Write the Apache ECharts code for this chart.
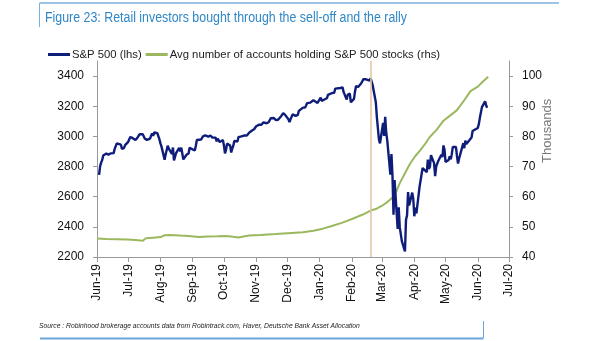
<!DOCTYPE html>
<html>
<head>
<meta charset="utf-8">
<script src="https://cdn.jsdelivr.net/npm/echarts@6/dist/echarts.min.js"></script>
<style>html,body{margin:0;padding:0;background:#fff}#c{width:605px;height:341px}</style>
</head>
<body>
<div id="c"></div>
<script>
// ---- Data ----
var monthTicks = ['2019-06-01','2019-07-01','2019-08-01','2019-09-01','2019-10-01','2019-11-01','2019-12-01','2020-01-01','2020-02-01','2020-03-01','2020-04-01','2020-05-01','2020-06-01','2020-07-01'];
var leftTicks = [2200, 2400, 2600, 2800, 3000, 3200, 3400];
var rightTicks = [40, 50, 60, 70, 80, 90, 100];
var spx = [
['2019-06-03',2744],['2019-06-04',2803],['2019-06-05',2826],['2019-06-06',2843],['2019-06-07',2873],['2019-06-10',2886],['2019-06-11',2885],['2019-06-12',2879],['2019-06-13',2891],['2019-06-14',2887],['2019-06-17',2889],['2019-06-18',2917],['2019-06-19',2926],['2019-06-20',2954],['2019-06-21',2950],['2019-06-24',2945],['2019-06-25',2917],['2019-06-26',2913],['2019-06-27',2924],['2019-06-28',2942],
['2019-07-01',2964],['2019-07-02',2973],['2019-07-03',2996],['2019-07-05',2990],['2019-07-08',2976],['2019-07-09',2979],['2019-07-10',2993],['2019-07-11',3000],['2019-07-12',3014],['2019-07-15',3014],['2019-07-16',3004],['2019-07-17',2985],['2019-07-18',2995],['2019-07-19',2977],['2019-07-22',2985],['2019-07-23',3005],['2019-07-24',3019],['2019-07-25',3004],['2019-07-26',3026],['2019-07-29',3021],['2019-07-30',3013],['2019-07-31',2980],
['2019-08-01',2954],['2019-08-02',2932],['2019-08-05',2845],['2019-08-06',2882],['2019-08-07',2884],['2019-08-08',2938],['2019-08-09',2919],['2019-08-12',2883],['2019-08-13',2926],['2019-08-14',2840],['2019-08-15',2848],['2019-08-16',2889],['2019-08-19',2924],['2019-08-20',2901],['2019-08-21',2925],['2019-08-22',2923],['2019-08-23',2847],['2019-08-26',2878],['2019-08-27',2869],['2019-08-28',2887],['2019-08-29',2924],['2019-08-30',2926],
['2019-09-03',2906],['2019-09-04',2938],['2019-09-05',2976],['2019-09-06',2979],['2019-09-09',2979],['2019-09-10',2980],['2019-09-11',3001],['2019-09-12',3010],['2019-09-13',3007],['2019-09-16',2998],['2019-09-17',3006],['2019-09-18',3006],['2019-09-19',3006],['2019-09-20',2992],['2019-09-23',2992],['2019-09-24',2967],['2019-09-25',2985],['2019-09-26',2977],['2019-09-27',2962],['2019-09-30',2977],
['2019-10-01',2940],['2019-10-02',2887],['2019-10-03',2910],['2019-10-04',2952],['2019-10-07',2939],['2019-10-08',2893],['2019-10-09',2919],['2019-10-10',2938],['2019-10-11',2970],['2019-10-14',2966],['2019-10-15',2996],['2019-10-16',2990],['2019-10-17',2998],['2019-10-18',2986],['2019-10-21',3007],['2019-10-22',2996],['2019-10-23',3005],['2019-10-24',3010],['2019-10-25',3023],['2019-10-28',3039],['2019-10-29',3037],['2019-10-30',3047],['2019-10-31',3038],
['2019-11-01',3067],['2019-11-04',3078],['2019-11-05',3075],['2019-11-06',3077],['2019-11-07',3085],['2019-11-08',3093],['2019-11-11',3087],['2019-11-12',3092],['2019-11-13',3094],['2019-11-14',3097],['2019-11-15',3120],['2019-11-18',3122],['2019-11-19',3120],['2019-11-20',3108],['2019-11-21',3104],['2019-11-22',3110],['2019-11-25',3134],['2019-11-26',3141],['2019-11-27',3154],['2019-11-29',3141],
['2019-12-02',3114],['2019-12-03',3094],['2019-12-04',3113],['2019-12-05',3117],['2019-12-06',3146],['2019-12-09',3136],['2019-12-10',3133],['2019-12-11',3142],['2019-12-12',3169],['2019-12-13',3169],['2019-12-16',3191],['2019-12-17',3192],['2019-12-18',3191],['2019-12-19',3205],['2019-12-20',3221],['2019-12-23',3224],['2019-12-24',3223],['2019-12-26',3240],['2019-12-27',3240],['2019-12-30',3222],['2019-12-31',3231],
['2020-01-02',3258],['2020-01-03',3235],['2020-01-06',3246],['2020-01-07',3237],['2020-01-08',3253],['2020-01-09',3275],['2020-01-10',3265],['2020-01-13',3288],['2020-01-14',3283],['2020-01-15',3289],['2020-01-16',3317],['2020-01-17',3330],['2020-01-21',3321],['2020-01-22',3321],['2020-01-23',3325],['2020-01-24',3295],['2020-01-27',3244],['2020-01-28',3276],['2020-01-29',3273],['2020-01-30',3284],['2020-01-31',3226],
['2020-02-03',3249],['2020-02-04',3298],['2020-02-05',3334],['2020-02-06',3345],['2020-02-07',3328],['2020-02-10',3352],['2020-02-11',3358],['2020-02-12',3379],['2020-02-13',3374],['2020-02-14',3380],['2020-02-18',3370],['2020-02-19',3386],['2020-02-20',3373],['2020-02-21',3338],['2020-02-24',3226],['2020-02-25',3128],['2020-02-26',3116],['2020-02-27',2979],['2020-02-28',2954],
['2020-03-02',3090],['2020-03-03',3003],['2020-03-04',3130],['2020-03-05',3024],['2020-03-06',2972],['2020-03-09',2747],['2020-03-10',2882],['2020-03-11',2741],['2020-03-12',2481],['2020-03-13',2711],['2020-03-16',2386],['2020-03-17',2529],['2020-03-18',2398],['2020-03-19',2409],['2020-03-20',2305],['2020-03-23',2237],['2020-03-24',2447],['2020-03-25',2476],['2020-03-26',2630],['2020-03-27',2541],['2020-03-30',2627],['2020-03-31',2585],
['2020-04-01',2470],['2020-04-02',2527],['2020-04-03',2489],['2020-04-06',2664],['2020-04-07',2660],['2020-04-08',2750],['2020-04-09',2790],['2020-04-13',2762],['2020-04-14',2846],['2020-04-15',2784],['2020-04-16',2800],['2020-04-17',2875],['2020-04-20',2823],['2020-04-21',2737],['2020-04-22',2799],['2020-04-23',2798],['2020-04-24',2837],['2020-04-27',2878],['2020-04-28',2863],['2020-04-29',2940],['2020-04-30',2912],
['2020-05-01',2831],['2020-05-04',2843],['2020-05-05',2868],['2020-05-06',2848],['2020-05-07',2882],['2020-05-08',2930],['2020-05-11',2930],['2020-05-12',2870],['2020-05-13',2820],['2020-05-14',2852],['2020-05-15',2864],['2020-05-18',2954],['2020-05-19',2922],['2020-05-20',2972],['2020-05-21',2949],['2020-05-22',2955],['2020-05-26',2992],['2020-05-27',3036],['2020-05-28',3030],['2020-05-29',3044],
['2020-06-01',3056],['2020-06-02',3081],['2020-06-03',3123],['2020-06-04',3112],['2020-06-05',3194],['2020-06-08',3232],['2020-06-09',3207],['2020-06-10',3190]
];
var accounts = [
['2019-06-01',46.1],['2019-06-10',46.0],['2019-06-20',45.9],['2019-06-30',45.8],['2019-07-08',45.6],['2019-07-15',45.4],['2019-07-18',46.2],['2019-07-25',46.4],['2019-08-01',46.6],['2019-08-05',47.2],['2019-08-10',47.3],['2019-08-20',47.1],['2019-08-28',47.0],['2019-09-07',46.6],['2019-09-15',46.8],['2019-09-25',46.9],['2019-10-03',47.0],['2019-10-10',46.7],['2019-10-15',46.5],['2019-10-25',47.1],['2019-11-05',47.3],['2019-11-20',47.6],['2019-12-01',47.9],['2019-12-16',48.2],['2019-12-26',48.7],['2020-01-04',49.4],['2020-01-12',50.2],['2020-01-23',51.4],['2020-02-01',52.6],['2020-02-11',54.0],['2020-02-19',55.4],['2020-02-24',55.9],['2020-03-01',57.0],['2020-03-06',58.2],['2020-03-12',60.0],['2020-03-15',62.0],['2020-03-18',64.5],['2020-03-23',67.8],['2020-03-28',71.0],['2020-04-02',73.5],['2020-04-07',75.5],['2020-04-12',77.8],['2020-04-16',79.9],['2020-04-22',82.0],['2020-04-29',85.2],['2020-05-05',86.8],['2020-05-12',88.7],['2020-05-18',91.5],['2020-05-25',95.0],['2020-06-01',96.5],['2020-06-06',98.2],['2020-06-11',99.8]
];
var peakDate = '2020-02-19';
var seriesNames = ['S&P 500 (lhs)', 'Avg number of accounts holding S&P 500 stocks (rhs)'];
var MON = ['Jan','Feb','Mar','Apr','May','Jun','Jul','Aug','Sep','Oct','Nov','Dec'];

function ts(s){ var p = s.split('-'); return new Date(+p[0], +p[1]-1, +p[2]).getTime(); }
function toTs(arr){ return arr.map(function(d){ return [ts(d[0]), d[1]]; }); }

var sans = "'Liberation Sans',Arial,sans-serif";
var chart = echarts.init(document.getElementById('c'));
chart.setOption({
  animation: false,
  textStyle: {fontFamily: sans},
  legend: {
    left: 48, top: 49, padding: 0, itemGap: 4, itemWidth: 22, itemHeight: 3, icon: 'rect',
    textStyle: {fontSize: 11.3, color: '#222', fontFamily: sans, padding: [0,0,0,-3]},
    data: seriesNames
  },
  grid: {left: 97, right: 96, top: 61, bottom: 84},
  xAxis: {
    type: 'value',
    min: ts(monthTicks[0]), max: ts(monthTicks[monthTicks.length-1]),
    axisLine: {lineStyle: {color: '#999', width: 1}},
    axisTick: {show: true, length: 5, lineStyle: {color: '#999'}, customValues: monthTicks.map(ts)},
    axisLabel: {
      rotate: 90, fontSize: 12, color: '#111', margin: 7,
      customValues: monthTicks.map(ts),
      formatter: function(v){ var d = new Date(v); return MON[d.getMonth()] + '-' + String(d.getFullYear()).slice(2); }
    },
    splitLine: {show: false}
  },
  yAxis: [{
    type: 'value', min: 2200, max: 3500, position: 'left',
    axisLine: {show: true, lineStyle: {color: '#999'}},
    axisTick: {show: true, length: 4, lineStyle: {color: '#999'}, customValues: leftTicks},
    axisLabel: {fontSize: 12, color: '#111', margin: 13, customValues: leftTicks, formatter: function(v){ return String(v); }},
    splitLine: {show: false}
  }, {
    type: 'value', min: 40, max: 105, position: 'right',
    axisLine: {show: true, lineStyle: {color: '#999'}},
    axisTick: {show: true, length: 4, lineStyle: {color: '#999'}, customValues: rightTicks},
    axisLabel: {fontSize: 12, color: '#111', margin: 13, customValues: rightTicks, formatter: function(v){ return String(v); }},
    splitLine: {show: false}
  }],
  graphic: [
    {type: 'line', shape: {x1: 39.5, y1: 3, x2: 559, y2: 3}, style: {stroke: '#7db1dd', lineWidth: 1.3}},
    {type: 'line', shape: {x1: 39.5, y1: 3, x2: 39.5, y2: 27}, style: {stroke: '#7db1dd', lineWidth: 1}},
    {type: 'line', shape: {x1: 40, y1: 338.5, x2: 483.5, y2: 338.5}, style: {stroke: '#6ba5d7', lineWidth: 2}},
    {type: 'line', shape: {x1: 483.5, y1: 321, x2: 483.5, y2: 338}, style: {stroke: '#6ba5d7', lineWidth: 1}},
    {type: 'text', x: 45, y: 18, scaleX: 0.885, style: {text: 'Figure 23: Retail investors bought through the sell-off and the rally', font: '14px ' + sans, fill: '#2f87c7', verticalAlign: 'middle'}},
    {type: 'text', x: 39, y: 326, scaleX: 0.9, style: {text: 'Source : Robinhood brokerage accounts data from Robintrack.com, Haver, Deutsche Bank Asset Allocation', font: 'italic 7.5px ' + sans, fill: '#222', verticalAlign: 'middle'}},
    {type: 'text', x: 541, y: 163, rotation: Math.PI/2, style: {text: 'Thousands', font: '13px ' + sans, fill: '#777'}}
  ],
  series: [{
    name: seriesNames[0], type: 'line', yAxisIndex: 0, data: toTs(spx),
    showSymbol: false, symbol: 'none',
    lineStyle: {color: '#0e1c7a', width: 2.4}, itemStyle: {color: '#0e1c7a'},
    markLine: {
      silent: true, symbol: 'none', label: {show: false},
      lineStyle: {color: '#e6c7a3', width: 1.6, type: 'solid'},
      data: [{xAxis: ts(peakDate)}]
    },
    z: 3
  }, {
    name: seriesNames[1], type: 'line', yAxisIndex: 1, data: toTs(accounts),
    showSymbol: false, symbol: 'none',
    lineStyle: {color: '#9bb85e', width: 2}, itemStyle: {color: '#9bb85e'},
    z: 2
  }]
});
</script>
</body>
</html>
